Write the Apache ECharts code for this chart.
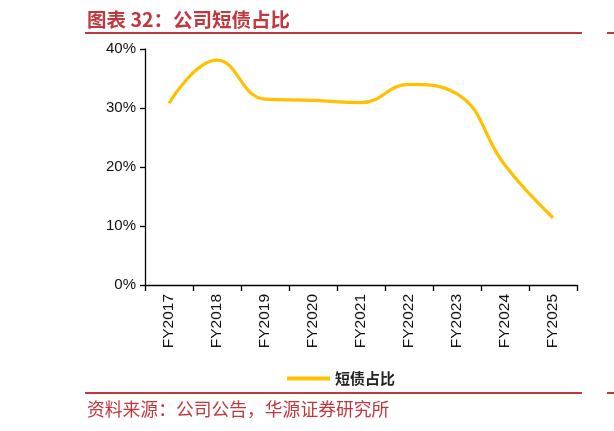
<!DOCTYPE html>
<html>
<head>
<meta charset="utf-8">
<script src="https://cdn.jsdelivr.net/npm/echarts@6/dist/echarts.min.js"></script>
<style>
  html, body { margin: 0; padding: 0; background: #fff; }
  #chart { width: 614px; height: 431px; }
</style>
</head>
<body>
<div id="chart"></div>
<script>
const categories = ["FY2017", "FY2018", "FY2019", "FY2020", "FY2021", "FY2022", "FY2023", "FY2024", "FY2025"];
const shortDebtShare = [30.8, 38.1, 31.5, 31.3, 30.9, 34.0, 32.4, 20.3, 11.4];
const yTicks = [0, 10, 20, 30, 40];

const RED = "#c0373d";
const chart = echarts.init(document.getElementById("chart"));

const option = {
  animation: false,
  textStyle: { fontFamily: "Liberation Sans, Arial, sans-serif" },
  grid: { left: 145, right: 37, top: 49, bottom: 146 },
  legend: {
    left: 282,
    top: 366,
    icon: "rect",
    itemWidth: 43,
    itemHeight: 4,
    itemGap: 5,
    textStyle: { fontFamily: "Noto Sans CJK SC", fontSize: 15, color: "#222", fontWeight: "bold" },
    data: ["短债占比"]
  },
  xAxis: {
    type: "category",
    data: categories,
    boundaryGap: true,
    axisLine: { lineStyle: { color: "#000", width: 1.3 } },
    axisTick: { show: true, length: 6, lineStyle: { color: "#000", width: 1.3 } },
    axisLabel: { rotate: 90, margin: 9, fontSize: 15.5, color: "#111" }
  },
  yAxis: {
    type: "value",
    min: yTicks[0],
    max: yTicks[yTicks.length - 1],
    interval: 10,
    axisLine: { show: true, lineStyle: { color: "#000", width: 1.3 } },
    axisTick: { show: true, length: 5, lineStyle: { color: "#000", width: 1.3 } },
    splitLine: { show: false },
    axisLabel: { formatter: "{value}%", fontSize: 15, margin: 9, color: "#111" }
  },
  series: [
    {
      name: "短债占比",
      type: "line",
      data: shortDebtShare,
      smooth: 0.45,
      symbol: "none",
      lineStyle: { color: "#ffc000", width: 3.2 },
      itemStyle: { color: "#ffc000" }
    }
  ],
  graphic: [
    {
      type: "text", left: 87, top: 10,
      style: { text: "图表 32：公司短债占比", font: "bold 19.5px 'Noto Sans CJK SC'", fill: RED }
    },
    { type: "rect", shape: { x: 85, y: 32, width: 497, height: 2 }, style: { fill: RED } },
    { type: "rect", shape: { x: 607, y: 32, width: 7, height: 2 }, style: { fill: RED } },
    { type: "rect", shape: { x: 85, y: 392, width: 497, height: 2 }, style: { fill: RED } },
    { type: "rect", shape: { x: 607, y: 392, width: 7, height: 2 }, style: { fill: RED } },
    {
      type: "text", left: 87, top: 400,
      style: { text: "资料来源：公司公告，华源证券研究所", font: "17.8px 'Noto Sans CJK SC'", fill: RED }
    }
  ]
};

chart.setOption(option);
</script>
</body>
</html>
